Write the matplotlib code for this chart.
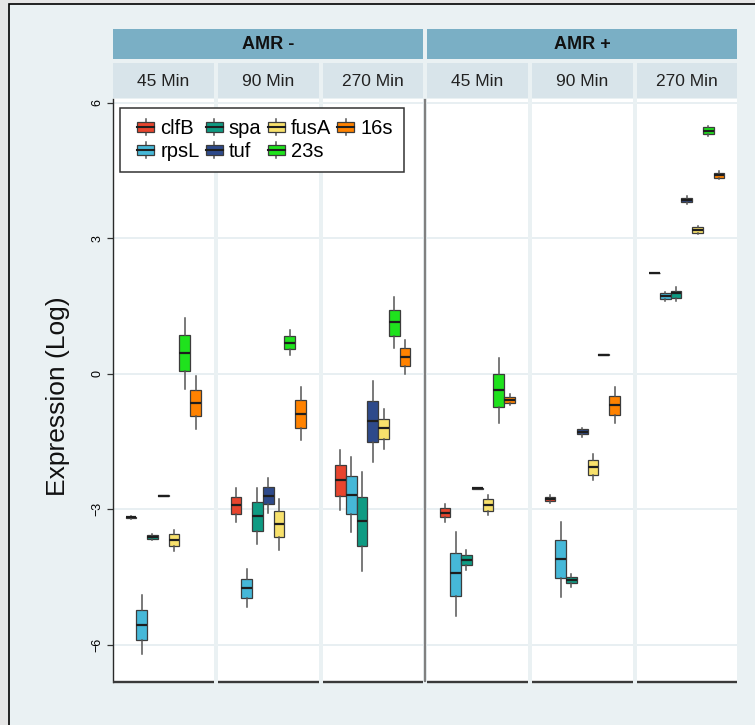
import matplotlib
matplotlib.use('Agg')
import matplotlib.pyplot as plt
from matplotlib.patches import Rectangle, Patch
from matplotlib.lines import Line2D
from matplotlib.legend_handler import HandlerBase

plt.rcParams['font.family'] = ['Liberation Sans', 'DejaVu Sans']

genes = ['clfB', 'rpsL', 'spa', 'tuf', 'fusA', '23s', '16s']
gene_colors = ['#e8452e', '#46b8d8', '#0f9b83', '#2e4a8b', '#f8e16c', '#1fe21d', '#ff8200']
groups = ['AMR -', 'AMR +']
times = ['45 Min', '90 Min', '270 Min']

# five-number summaries per gene: low whisker, Q1, median, Q3, high whisker
amr_neg_45 = [
    [-3.21, -3.20, -3.18, -3.16, -3.15],
    [-6.21, -5.90, -5.55, -5.22, -4.90],
    [-3.67, -3.65, -3.61, -3.57, -3.55],
    [-2.71, -2.71, -2.70, -2.69, -2.69],
    [-3.92, -3.80, -3.68, -3.55, -3.45],
    [-0.33, 0.06, 0.45, 0.85, 1.24],
    [-1.23, -0.94, -0.64, -0.35, -0.06],
]
amr_neg_90 = [
    [-3.29, -3.11, -2.90, -2.72, -2.53],
    [-5.15, -4.96, -4.74, -4.53, -4.32],
    [-3.77, -3.47, -3.15, -2.84, -2.53],
    [-3.07, -2.89, -2.70, -2.50, -2.31],
    [-3.91, -3.62, -3.33, -3.04, -2.76],
    [0.42, 0.55, 0.69, 0.83, 0.96],
    [-1.47, -1.19, -0.88, -0.58, -0.30],
]
amr_neg_270 = [
    [-3.01, -2.70, -2.35, -2.02, -1.69],
    [-3.51, -3.11, -2.68, -2.26, -1.85],
    [-4.36, -3.81, -3.26, -2.72, -2.17],
    [-1.95, -1.51, -1.04, -0.60, -0.15],
    [-1.67, -1.45, -1.21, -0.99, -0.77],
    [0.57, 0.83, 1.14, 1.42, 1.70],
    [0.00, 0.17, 0.37, 0.56, 0.74],
]
amr_pos_45 = [
    [-3.28, -3.17, -3.07, -2.98, -2.88],
    [-5.35, -4.91, -4.41, -3.96, -3.49],
    [-4.35, -4.24, -4.12, -4.01, -3.91],
    [-2.54, -2.54, -2.53, -2.52, -2.52],
    [-3.12, -3.04, -2.90, -2.78, -2.68],
    [-1.09, -0.73, -0.36, -0.01, 0.35],
    [-0.70, -0.64, -0.57, -0.51, -0.45],
]
amr_pos_90 = [
    [-2.85, -2.82, -2.77, -2.72, -2.69],
    [-4.93, -4.52, -4.10, -3.68, -3.27],
    [-4.71, -4.64, -4.57, -4.50, -4.43],
    [-1.39, -1.34, -1.28, -1.23, -1.19],
    [-2.35, -2.23, -2.07, -1.91, -1.78],
    [0.41, 0.41, 0.42, 0.43, 0.43],
    [-1.10, -0.91, -0.70, -0.50, -0.30],
]
amr_pos_270 = [
    [2.22, 2.22, 2.23, 2.24, 2.24],
    [1.62, 1.65, 1.72, 1.78, 1.82],
    [1.62, 1.67, 1.78, 1.84, 1.91],
    [3.75, 3.79, 3.84, 3.90, 3.93],
    [3.09, 3.12, 3.18, 3.24, 3.27],
    [5.27, 5.30, 5.38, 5.45, 5.48],
    [4.30, 4.33, 4.39, 4.45, 4.48],
]
panels = [amr_neg_45, amr_neg_90, amr_neg_270, amr_pos_45, amr_pos_90, amr_pos_270]

W, H = 755, 725
BG = '#eaf1f3'
EDGE = '#3c3c3c'
WHISKER = '#555555'
MEDIAN = '#1e1e1e'


def fx(x):
    return x / W


def fy(y):
    return 1 - y / H


class BoxKey(HandlerBase):
    # small boxplot glyph, drawn in the right part of the handle area
    def create_artists(self, legend, orig_handle, xdescent, ydescent,
                       width, height, fontsize, trans):
        x0, y0 = -xdescent, -ydescent
        bx = x0 + width * 0.27
        bw = width - width * 0.27
        cx = bx + bw / 2
        cy = y0 + height / 2
        bh = height * 0.75
        wl = Line2D([cx, cx], [y0 - 0.08 * height, y0 + 1.08 * height],
                    color=WHISKER, lw=1.1, transform=trans)
        box = Rectangle((bx, cy - bh / 2), bw, bh,
                        facecolor=orig_handle.get_facecolor(), edgecolor=EDGE,
                        lw=0.9, transform=trans)
        med = Line2D([bx, bx + bw], [cy, cy], color=MEDIAN, lw=1.5,
                     transform=trans)
        return [wl, box, med]


fig = plt.figure(figsize=(W / 100, H / 100), dpi=100, facecolor='#e6e6e6')
fig.add_artist(Rectangle((fx(9), fy(760)), fx(800), fy(4) - fy(760),
                         transform=fig.transFigure, facecolor=BG,
                         edgecolor='black', lw=1.2, zorder=0))

panel_top, panel_bottom = 99, 682
panel_w = 100.5
lefts = [113, 218, 322.5, 427, 532, 636.5]
dodge = 0.9 / len(genes)
positions = [1 + (i - (len(genes) - 1) / 2) * dodge for i in range(len(genes))]

for k, stats in enumerate(panels):
    ax = fig.add_axes([fx(lefts[k]), fy(panel_bottom), fx(panel_w),
                       fy(panel_top) - fy(panel_bottom)])
    ax.set_facecolor('white')
    boxes = [dict(whislo=s[0], q1=s[1], med=s[2], q3=s[3], whishi=s[4], fliers=[])
             for s in stats]
    bp = ax.bxp(boxes, positions=positions, widths=dodge, patch_artist=True,
                showcaps=False, showfliers=False,
                boxprops=dict(edgecolor=EDGE, linewidth=0.9),
                whiskerprops=dict(color=WHISKER, linewidth=1.1),
                medianprops=dict(color=MEDIAN, linewidth=1.6, solid_capstyle='butt'))
    for patch, c in zip(bp['boxes'], gene_colors):
        patch.set_facecolor(c)
    ax.set_xlim(0.4, 1.6)
    ax.set_ylim(-6.82, 6.08)
    ax.set_xticks([])
    ax.set_yticks([-6, -3, 0, 3, 6])
    ax.yaxis.grid(True, color='#e6eef1', linewidth=1.3)
    ax.set_axisbelow(True)
    for side in ['top', 'right', 'left']:
        ax.spines[side].set_visible(False)
    ax.spines['bottom'].set_color('#3a3a3a')
    ax.spines['bottom'].set_linewidth(1.7)
    ax.spines['bottom'].set_capstyle('butt')
    if k == 0:
        ax.spines['left'].set_visible(True)
        ax.spines['left'].set_color('#2a2a2a')
        ax.spines['left'].set_linewidth(1.0)
        ax.tick_params(axis='y', length=4, width=0.9, color='#333333',
                       labelsize=9, pad=3, labelrotation=90)
        for lab in ax.get_yticklabels():
            lab.set_verticalalignment('center')
    else:
        ax.tick_params(axis='y', length=0, labelleft=False)

    # facet strip for the time point
    fig.add_artist(Rectangle((fx(lefts[k]), fy(98)), fx(panel_w), fy(63) - fy(98),
                             transform=fig.transFigure, facecolor='#d8e4ea',
                             edgecolor='none'))
    fig.text(fx(lefts[k] + panel_w / 2), fy(81), times[k % 3], ha='center',
             va='center', fontsize=12.5, color='#222222')

# group strips across three panels each
for g, name in enumerate(groups):
    x0 = lefts[3 * g]
    x1 = lefts[3 * g + 2] + panel_w
    fig.add_artist(Rectangle((fx(x0), fy(59)), fx(x1 - x0), fy(29) - fy(59),
                             transform=fig.transFigure, facecolor='#7aafc5',
                             edgecolor='none'))
    fig.text(fx((x0 + x1) / 2), fy(44.5), name, ha='center', va='center',
             fontsize=13, fontweight='bold', color='#111111')

# divider between the two groups
fig.add_artist(Line2D([fx(424.5), fx(424.5)], [fy(100), fy(681)],
                      transform=fig.transFigure, color='#808080', lw=1.6))

fig.text(fx(58), fy(396), 'Expression (Log)', rotation=90, ha='center',
         va='center', fontsize=19, color='#111111')

handles = [Patch(facecolor=c) for c in gene_colors]
leg = fig.legend(handles, genes, loc='upper left',
                 bbox_to_anchor=(fx(120), fy(108)), ncol=4, fontsize=14.5,
                 handler_map={Patch: BoxKey()}, handlelength=1.15,
                 handleheight=0.7, handletextpad=0.3, columnspacing=0.0,
                 labelspacing=0.2, borderpad=0.55, borderaxespad=0,
                 fancybox=False, framealpha=1, edgecolor='#333333')
leg.get_frame().set_linewidth(1.1)

fig.savefig('out.png', dpi=100, facecolor=fig.get_facecolor())
